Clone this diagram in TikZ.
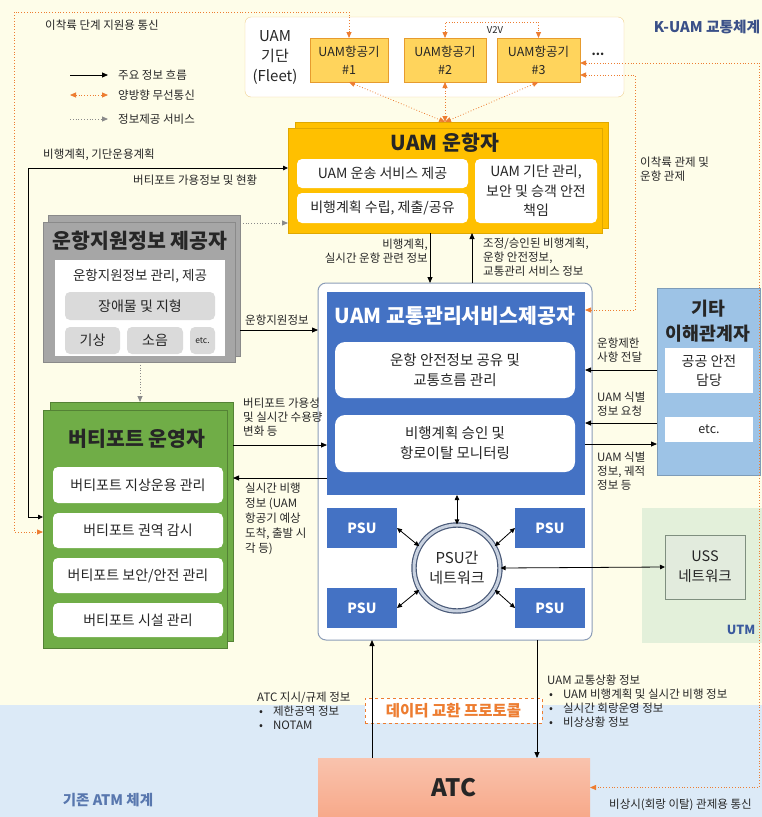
\documentclass[tikz,border=0pt]{standalone}
\usepackage{fontspec}
\setmainfont{Noto Sans CJK KR}
\usetikzlibrary{arrows.meta}
\newcommand{\setfs}[2]{\fontsize{#1}{#2}\selectfont}
\definecolor{creambg}{HTML}{FEFDE9}
\definecolor{atmbg}{HTML}{DCEAF7}
\definecolor{utmbg}{HTML}{E3F0DA}
\definecolor{wline}{HTML}{ED7D31}
\definecolor{gold}{HTML}{FFC000}
\definecolor{goldline}{HTML}{E0A800}
\definecolor{acfill}{HTML}{FFD45C}
\definecolor{acline}{HTML}{E69B2E}
\definecolor{fleetline}{HTML}{F0CF8C}
\definecolor{grayfill}{HTML}{A6A6A6}
\definecolor{grayline}{HTML}{8A8A8A}
\definecolor{graysub}{HTML}{DADADA}
\definecolor{vgreen}{HTML}{70AD47}
\definecolor{vgreenline}{HTML}{548235}
\definecolor{tblue}{HTML}{4472C4}
\definecolor{tline}{HTML}{8C9DB8}
\definecolor{skblue}{HTML}{9DC3E6}
\definecolor{ussfill}{HTML}{E2EBDD}
\definecolor{ussline}{HTML}{7F8F7F}
\definecolor{ringline}{HTML}{4A5A78}
\definecolor{ringmid}{HTML}{C9D2E0}
\definecolor{atcfill}{HTML}{F7A98A}
\definecolor{kuamtxt}{HTML}{3A5088}
\definecolor{atmtxt}{HTML}{5877AE}
\definecolor{utmtxt}{HTML}{3A5A9E}
\definecolor{txt}{HTML}{262626}

\begin{document}
\begin{tikzpicture}[x=1pt,y=-1pt,
    box/.style={draw, anchor=north west, outer sep=0pt, inner sep=0pt, align=center, text=txt},
    sub/.style={box, draw=none, fill=white, rounded corners=5pt, font=\setfs{14}{19}},
    title/.style={font=\bfseries\setfs{20.5}{24}, align=center, text=txt},
    lbl/.style={font=\setfs{11.5}{13.8}, align=left, text=txt, inner sep=0pt},
    main/.style={-{Triangle[length=6pt,width=5pt]}, line width=0.8pt, black},
    both/.style={{Triangle[length=5pt,width=4.5pt]}-{Triangle[length=5pt,width=4.5pt]}, line width=0.8pt, black},
    wireless/.style={{Triangle[length=6pt,width=5pt]}-{Triangle[length=6pt,width=5pt]}, line width=0.8pt, wline, dotted},
    service/.style={-{Triangle[length=6pt,width=5pt]}, line width=0.8pt, grayline, dotted}]
\useasboundingbox (0,0) rectangle (762,817);
% regions
\fill[creambg] (0,0) rectangle (762,817);
\fill[atmbg] (0,705) rectangle (762,817);
\fill[utmbg] (642,508) rectangle (762,643);
\node[font=\bfseries\setfs{14.7}{17}, text=kuamtxt] (kuamlbl) at (707,27) {K-UAM 교통체계};
\node[font=\bfseries\setfs{14.5}{17}, text=atmtxt] (atmlbl) at (108,800) {기존 ATM 체계};
\node[font=\bfseries\setfs{12.5}{14}, text=utmtxt] (utmlbl) at (741,630) {UTM};

% legend
\foreach \y/\s/\t in {75/main/주요 정보 흐름, 95/wireless/양방향 무선통신, 119/service/정보제공 서비스}{
    \coordinate (lga\y) at (70,\y);
    \coordinate (lgb\y) at (108,\y);
    \draw[\s] (lga\y) -- (lgb\y);
    \node[lbl, anchor=west] (lgt\y) at (118,\y) {\t};
}

% fleet
\node[box, draw=fleetline, fill=white, rounded corners=6pt, minimum width=379pt, minimum height=80pt] (fleet) at (245,17) {};
\node[font=\setfs{15}{20}, align=center, text=txt] (fleettxt) at (275,57) {UAM\\기단\\(Fleet)};
\foreach \n/\x/\w in {1/310/78, 2/404/82, 3/497/83}
    \node[box, fill=acfill, draw=acline, minimum width=\w pt, minimum height=44pt, font=\setfs{12.5}{18}] (ac\n) at (\x,38) {UAM항공기\\\#\n};
\node[font=\bfseries\setfs{12}{14}, text=txt] (more) at (598,54) {...};
\node[lbl, font=\setfs{9.5}{11}] (v2vlbl) at (495,30) {V2V};

% UAM operator
\node[box, fill=gold, draw=goldline, minimum width=313pt, minimum height=106pt] (operback) at (295,122) {};
\node[box, fill=gold, draw=goldline, minimum width=314pt, minimum height=105pt] (oper) at (288,128) {};
\node[title] (opertitle) at (445,143) {UAM 운항자};
\node[sub, minimum width=171pt, minimum height=29pt] (ops1) at (297,159) {UAM 운송 서비스 제공};
\node[sub, minimum width=171pt, minimum height=30pt] (ops2) at (297,193) {비행계획 수립, 제출/공유};
\node[sub, minimum width=122pt, minimum height=64pt, font=\setfs{14}{19.5}] (ops3) at (475,159) {UAM 기단 관리,\\보안 및 승객 안전\\책임};

% info provider
\node[box, fill=grayfill, draw=grayline, minimum width=192pt, minimum height=141pt] (infoback) at (48,215) {};
\node[box, fill=grayfill, draw=grayline, minimum width=192pt, minimum height=140pt] (info) at (43,222) {};
\node[title] (infotitle) at (140,241) {운항지원정보 제공자};
\node[box, draw=none, fill=white, minimum width=170pt, minimum height=96pt] (infoin) at (55,260) {};
\node[font=\setfs{13.5}{15}, text=txt] (infotxt) at (140,276) {운항지원정보 관리, 제공};
\node[sub, fill=graysub, minimum width=150pt, minimum height=28pt] (obst) at (65,292) {장애물 및 지형};
\node[sub, fill=graysub, minimum width=55pt, minimum height=27pt] (wthr) at (65,327) {기상};
\node[sub, fill=graysub, minimum width=56pt, minimum height=27pt] (noise) at (127,327) {소음};
\node[sub, fill=graysub, minimum width=25pt, minimum height=27pt, font=\setfs{8.5}{10}] (ietc) at (190,327) {etc.};

% vertiport operator
\node[box, fill=vgreen, draw=vgreenline, minimum width=183pt, minimum height=239pt] (vportback) at (50,402) {};
\node[box, fill=vgreen, draw=vgreenline, minimum width=184pt, minimum height=238pt] (vport) at (43,410) {};
\node[title] (vporttitle) at (137,439) {버티포트 운영자};
\node[sub, minimum width=170pt, minimum height=36pt] (vp1) at (53,467) {버티포트 지상운용 관리};
\node[sub, minimum width=170pt, minimum height=35pt] (vp2) at (53,513) {버티포트 권역 감시};
\node[sub, minimum width=170pt, minimum height=35pt] (vp3) at (53,558) {버티포트 보안/안전 관리};
\node[sub, minimum width=170pt, minimum height=34pt] (vp4) at (53,603) {버티포트 시설 관리};

% UAM traffic management service provider
\node[box, fill=white, draw=tline, line width=1pt, rounded corners=8pt, minimum width=274pt, minimum height=357pt] (tmsout) at (318,283) {};
\node[box, fill=tblue, draw=none, minimum width=258pt, minimum height=203pt] (tmsp) at (327,292) {};
\node[title, text=white] (tmsptitle) at (455,316) {UAM 교통관리서비스제공자};
\node[sub, rounded corners=10pt, minimum width=240pt, minimum height=56pt, font=\setfs{14.5}{20}] (tm1) at (335,342) {운항 안전정보 공유 및\\교통흐름 관리};
\node[sub, rounded corners=10pt, minimum width=240pt, minimum height=57pt, font=\setfs{14.5}{20}] (tm2) at (335,415) {비행계획 승인 및\\항로이탈 모니터링};
\foreach \n/\x/\y in {1/327/508, 2/515/508, 3/327/588, 4/515/588}
    \node[box, fill=tblue, draw=none, minimum width=70pt, minimum height=40pt, text=white, font=\bfseries\setfs{14}{16}] (psu\n) at (\x,\y) {PSU};
\node[circle, draw=ringline, line width=1.2pt, double=ringmid, double distance=3pt, fill=white, minimum size=86pt, inner sep=0pt, align=center, text=txt, font=\setfs{15}{20}] (net) at (457,568) {PSU간\\네트워크};

% other stakeholders, UTM, ATC
\node[box, fill=skblue, draw=skblue!80!black, minimum width=103pt, minimum height=187pt] (stake) at (657,288) {};
\node[font=\bfseries\setfs{18.3}{25}, align=center, text=txt] (staketitle) at (708,321) {기타\\이해관계자};
\node[sub, rounded corners=0pt, minimum width=88pt, minimum height=45pt, font=\setfs{14}{19}] (sk1) at (665,348) {공공 안전\\담당};
\node[sub, rounded corners=0pt, minimum width=88pt, minimum height=25pt, font=\setfs{12.5}{14}] (sk2) at (665,417) {etc.};
\node[box, fill=ussfill, draw=ussline, minimum width=80pt, minimum height=64pt, font=\setfs{14.5}{20}] (uss) at (665,535) {USS\\네트워크};
\node[box, draw=none, top color=atcfill!70!white, bottom color=atcfill, minimum width=272pt, minimum height=59pt, font=\bfseries\setfs{24}{28}] (atc) at (318,758) {ATC};
\node[box, draw=wline, dashed, line width=0.8pt, fill=white, minimum width=177pt, minimum height=25pt, text=wline, font=\bfseries\setfs{15.5}{17}] (proto) at (365,698) {데이터 교환 프로토콜};

% wireless links
\coordinate (tl) at (14,12);
\coordinate (bl) at (14,532);
\coordinate (v2v) at (495,22);
\coordinate (er) at (759,63);
\coordinate (ctl) at (635,310);
\draw[wireless] (ac1.north) |- (tl) -- (bl) -- (vport.west |- bl);
\draw[wireless] (ac2.north) |- (v2v) -| (ac3.north);
\draw[wireless] ([yshift=-3pt]ac3.east) -- (er) -- (er |- atc.east) -- (atc.east);
\draw[wireless] ([yshift=-15pt]ac3.east) -| (ctl) -- (tmsp.east |- ctl);
\foreach \n in {1,2,3}
    \draw[wireless] (ac\n.south) -- ([yshift=6pt]oper.north);
\node[lbl, anchor=west] (tllbl) at (45,25) {이착륙 단계 지원용 통신};
\node[lbl, anchor=north west] (ctllbl) at (640,157) {이착륙 관제 및\\운항 관제};
\node[lbl, anchor=west] (emlbl) at (609,805) {비상시(회랑 이탈) 관제용 통신};

% information flows
\coordinate (lc) at (28,168);
\draw[both] (vport.west |- 0,517) -| (lc) -- (oper.west |- lc);
\node[lbl, anchor=west] (planlbl) at (43,155) {비행계획, 기단운용계획};
\node[lbl, anchor=west] (vpinfolbl) at (133,180) {버티포트 가용정보 및 현황};
\draw[service] (infoback.east |- 0,223) -- (oper.west |- 0,223);
\draw[service] (info.south -| 140,0) -- (vportback.north -| 140,0);
\draw[main] (oper.south -| 430,0) -- (tmsout.north -| 430,0);
\draw[main] (tmsout.north -| 472,0) -- (oper.south -| 472,0);
\node[lbl, anchor=north east, align=right] (downlbl) at (428,239) {비행계획,\\실시간 운항 관련 정보};
\node[lbl, anchor=north west] (uplbl) at (483,238) {조정/승인된 비행계획,\\운항 안전정보,\\교통관리 서비스 정보};
\draw[main] (infoback.east |- 0,330) -- (tmsout.west |- 0,330);
\node[lbl, anchor=west] (suplbl) at (245,320) {운항지원정보};
\draw[main] (vportback.east |- 0,445) -- (tmsp.west |- 0,445);
\draw[main] (tmsp.west |- 0,478) -- (vportback.east |- 0,478);
\node[lbl, anchor=north west] (capalbl) at (243,398) {버티포트 가용성\\및 실시간 수용량\\변화 등};
\node[lbl, anchor=north west, font=\setfs{11.5}{15}] (rtlbl) at (245,483) {실시간 비행\\정보 (UAM\\항공기 예상\\도착, 출발 시\\각 등)};
\draw[main] (stake.west |- 0,370) -- (tmsp.east |- 0,370);
\draw[main] (stake.west |- 0,423) -- (tmsp.east |- 0,423);
\draw[main] (tmsp.east |- 0,444) -- (stake.west |- 0,444);
\node[lbl, anchor=north west] (restlbl) at (597,338) {운항제한\\사항 전달};
\node[lbl, anchor=north west] (reqlbl) at (597,392) {UAM 식별\\정보 요청};
\node[lbl, anchor=north west] (idlbl) at (597,452) {UAM 식별\\정보, 궤적\\정보 등};

% PSU network
\draw[both] (psu1.east) -- (net.150);
\draw[both] (psu2.west) -- (net.30);
\draw[both] (psu3.east) -- (net.210);
\draw[both] (psu4.west) -- (net.330);
\draw[both] (net.north) -- (tmsp.south -| net.north);
\draw[both] (uss.west) -- (net.east);

% ATC links
\draw[main] (atc.north -| 372,0) -- (tmsout.south -| 372,0);
\draw[main] (tmsout.south -| 537,0) -- (atc.north -| 537,0);
\node[lbl, anchor=north west] (atclbl) at (257,692) {ATC 지시/규제 정보\\\hspace*{2pt}•\hspace{10pt}제한공역 정보\\\hspace*{2pt}•\hspace{10pt}NOTAM};
\node[lbl, anchor=north west] (sitlbl) at (547,675) {UAM 교통상황 정보\\\hspace*{2pt}•\hspace{10pt}UAM 비행계획 및 실시간 비행 정보\\\hspace*{2pt}•\hspace{10pt}실시간 회랑운영 정보\\\hspace*{2pt}•\hspace{10pt}비상상황 정보};
\end{tikzpicture}
\end{document}
